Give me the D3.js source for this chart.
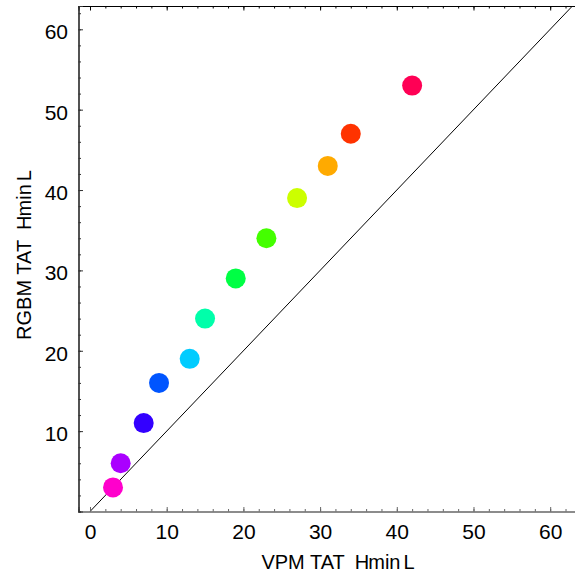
<!DOCTYPE html>
<html>
<head>
<meta charset="utf-8">
<script src="https://cdn.jsdelivr.net/npm/d3@7"></script>
<style>
  html, body { margin: 0; padding: 0; background: #fff; }
  svg { display: block; font-family: "Liberation Sans", Arial, sans-serif; }
</style>
</head>
<body>
<svg id="chart" width="575" height="574"></svg>
<script>
// Data
const vpmTAT  = [3, 4, 7, 9, 13, 15, 19, 23, 27, 31, 34, 42];
const rgbmTAT = [3, 6, 11, 16, 19, 24, 29, 34, 39, 43, 47, 53];
const pointColors = ["#ff00cc", "#aa00ff", "#3300ff", "#0055ff", "#00ccff", "#00ffaa",
                     "#00ff44", "#44ff00", "#ccff00", "#ffaa00", "#ff3300", "#ff0055"];
const xTickLabels = [0, 10, 20, 30, 40, 50, 60];
const yTickLabels = [10, 20, 30, 40, 50, 60];
const xTitle = "VPM TAT";
const yTitle = "RGBM TAT";
const unitPrefix = "H";
const unitText = "min";
const unitSuffix = "L";

const svg = d3.select("#chart");
const pLeft = 78.5, pRight = 575.5, pTop = 6, pBottom = 511.5;

const x = d3.scaleLinear().domain([-1.5, 63.3]).range([pLeft, pRight]);
const y = d3.scaleLinear().domain([0, 62.9]).range([pBottom, pTop]);

svg.append("defs").append("clipPath").attr("id", "clip")
  .append("rect").attr("x", pLeft).attr("y", pTop)
  .attr("width", pRight - pLeft).attr("height", pBottom - pTop);

// Diagonal y = x
svg.append("line")
  .attr("clip-path", "url(#clip)")
  .attr("x1", x(0)).attr("y1", y(0))
  .attr("x2", x(70)).attr("y2", y(70))
  .attr("stroke", "#000").attr("stroke-width", 1);

const minorTicks = d3.range(0, 64, 2);

function styleAxis(g, color) {
  g.select(".domain").attr("stroke", color).attr("stroke-width", 1.2);
  g.selectAll(".tick line").attr("stroke", color).attr("stroke-width", 1);
}

// Bottom axis (minor + major)
const xb = svg.append("g").attr("transform", `translate(0,${pBottom})`)
  .call(d3.axisBottom(x).tickValues(minorTicks).tickSize(-2.5).tickFormat(""));
styleAxis(xb, "#666");
const xbM = svg.append("g").attr("transform", `translate(0,${pBottom})`)
  .call(d3.axisBottom(x).tickValues(xTickLabels).tickSize(-4.5).tickPadding(13).tickFormat(d3.format("d")));
styleAxis(xbM, "#666");
xbM.selectAll("text").attr("fill", "#000").attr("font-size", 21)
  .attr("font-family", "Liberation Sans, Arial, sans-serif");

// Top frame
const xt = svg.append("g").attr("transform", `translate(0,${pTop})`)
  .call(d3.axisTop(x).tickValues(minorTicks).tickSize(-2.5).tickFormat(""));
styleAxis(xt, "#000");
const xtM = svg.append("g").attr("transform", `translate(0,${pTop})`)
  .call(d3.axisTop(x).tickValues(xTickLabels).tickSize(-4.5).tickFormat(""));
styleAxis(xtM, "#000");

// Left axis
const yl = svg.append("g").attr("transform", `translate(${pLeft},0)`)
  .call(d3.axisLeft(y).tickValues(minorTicks).tickSize(-2.5).tickFormat(""));
styleAxis(yl, "#333");
const ylM = svg.append("g").attr("transform", `translate(${pLeft},0)`)
  .call(d3.axisLeft(y).tickValues(yTickLabels).tickSize(-4.5).tickPadding(10.5).tickFormat(d3.format("d")));
styleAxis(ylM, "#333");
ylM.selectAll("text").attr("fill", "#000").attr("font-size", 21).attr("dy", "0.45em")
  .attr("font-family", "Liberation Sans, Arial, sans-serif");

// Points
svg.append("g").selectAll("circle")
  .data(vpmTAT.map((v, i) => ({ x: v, y: rgbmTAT[i], c: pointColors[i] })))
  .join("circle")
  .attr("cx", d => x(d.x)).attr("cy", d => y(d.y))
  .attr("r", 10).attr("fill", d => d.c);

// Titles
function title(sel) {
  sel.append("tspan").text(sel.datum());
  sel.append("tspan").attr("dx", 10).text(unitPrefix);
  sel.append("tspan").attr("dx", -1).text(unitText);
  sel.append("tspan").attr("dx", 3).text(unitSuffix);
}
svg.append("text").datum(xTitle)
  .attr("x", 338).attr("y", 569).attr("text-anchor", "middle")
  .attr("font-size", 20).attr("fill", "#000").call(title);

svg.append("text").datum(yTitle)
  .attr("transform", "translate(31,255) rotate(-90)").attr("text-anchor", "middle")
  .attr("font-size", 20).attr("fill", "#000").call(title);
</script>
</body>
</html>
